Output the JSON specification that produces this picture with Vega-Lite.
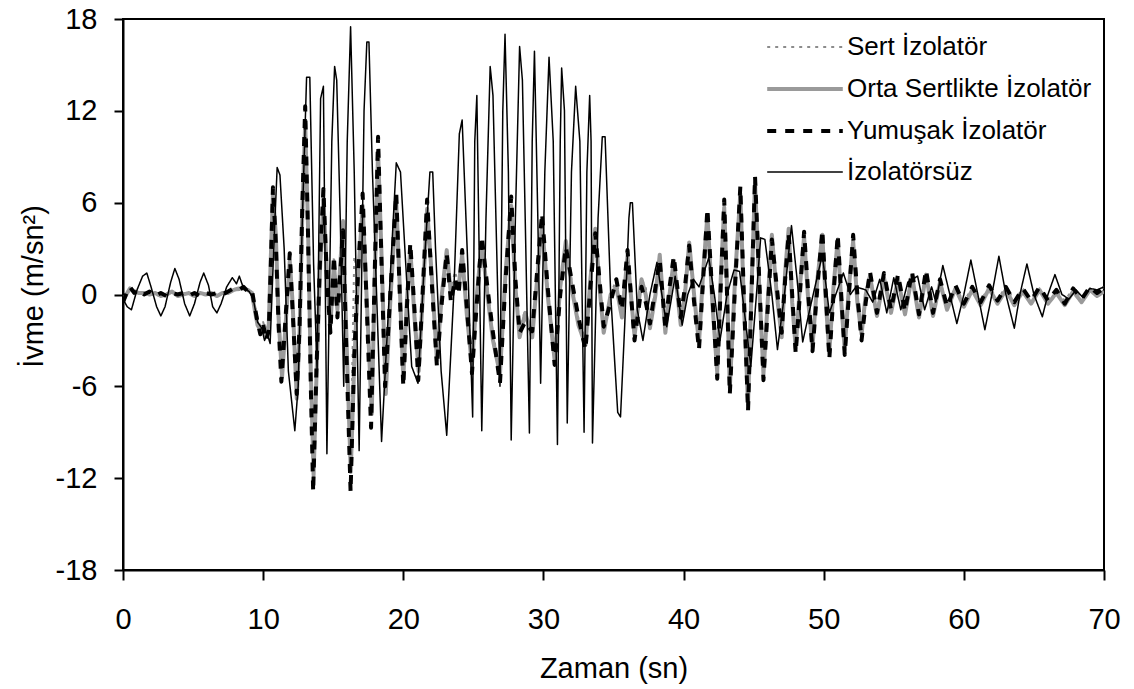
{
"$schema": "https://vega.github.io/schema/vega-lite/v6.json",
"width": 981,
"height": 551,
"autosize": {"type": "none"},
"padding": {"left": 123, "top": 19, "right": 30, "bottom": 119},
"background": "white",
"config": {
 "font": "Liberation Sans",
 "view": {"stroke": "#000", "strokeWidth": 2},
 "axis": {"grid": false, "domainColor": "#000", "domainWidth": 2, "tickColor": "#000", "tickWidth": 2, "labelColor": "#000", "titleColor": "#000", "labelFont": "Liberation Sans", "titleFont": "Liberation Sans", "labelFontSize": 29, "titleFontSize": 29, "titleFontWeight": "normal"},
 "legend": {"title": null, "orient": "none", "legendX": 653, "legendY": 0, "padding": 0, "symbolType": "M-1.4,0H1.4", "symbolSize": 2916, "labelFont": "Liberation Sans", "labelFontSize": 26, "labelColor": "#000", "labelOffset": 13, "rowPadding": 0, "labelLimit": 400}
},
"datasets": {
"sert": [
{"seri":"Sert İzolatör","zaman":0,"ivme":-0.3},{"seri":"Sert İzolatör","zaman":0.5,"ivme":0.3},{"seri":"Sert İzolatör","zaman":1.1,"ivme":0.2},{"seri":"Sert İzolatör","zaman":1.9,"ivme":0.1},{"seri":"Sert İzolatör","zaman":2.7,"ivme":0.0},{"seri":"Sert İzolatör","zaman":3.5,"ivme":0.1},{"seri":"Sert İzolatör","zaman":4.3,"ivme":0.1},{"seri":"Sert İzolatör","zaman":5.1,"ivme":0.0},{"seri":"Sert İzolatör","zaman":5.9,"ivme":0.1},{"seri":"Sert İzolatör","zaman":6.7,"ivme":0.0},{"seri":"Sert İzolatör","zaman":7.5,"ivme":0.2},{"seri":"Sert İzolatör","zaman":8.3,"ivme":0.3},{"seri":"Sert İzolatör","zaman":8.9,"ivme":0.3},{"seri":"Sert İzolatör","zaman":9.2,"ivme":0.2},{"seri":"Sert İzolatör","zaman":9.4,"ivme":-0.6},{"seri":"Sert İzolatör","zaman":9.6,"ivme":-1.5},{"seri":"Sert İzolatör","zaman":9.8,"ivme":-2.1},{"seri":"Sert İzolatör","zaman":10.0,"ivme":-1.8},{"seri":"Sert İzolatör","zaman":10.2,"ivme":-2.5},{"seri":"Sert İzolatör","zaman":10.4,"ivme":-1.8},{"seri":"Sert İzolatör","zaman":10.55,"ivme":2.0},{"seri":"Sert İzolatör","zaman":10.7,"ivme":6.0},{"seri":"Sert İzolatör","zaman":10.9,"ivme":3.5},{"seri":"Sert İzolatör","zaman":11.1,"ivme":-1.0},{"seri":"Sert İzolatör","zaman":11.35,"ivme":-4.8},{"seri":"Sert İzolatör","zaman":11.6,"ivme":-1.5},{"seri":"Sert İzolatör","zaman":11.9,"ivme":2.0},{"seri":"Sert İzolatör","zaman":12.1,"ivme":0.0},{"seri":"Sert İzolatör","zaman":12.4,"ivme":-6.0},{"seri":"Sert İzolatör","zaman":12.6,"ivme":-2.0},{"seri":"Sert İzolatör","zaman":12.8,"ivme":5.0},{"seri":"Sert İzolatör","zaman":13.0,"ivme":10.5},{"seri":"Sert İzolatör","zaman":13.2,"ivme":4.0},{"seri":"Sert İzolatör","zaman":13.4,"ivme":-4.5},{"seri":"Sert İzolatör","zaman":13.6,"ivme":-10.8},{"seri":"Sert İzolatör","zaman":13.8,"ivme":-5.0},{"seri":"Sert İzolatör","zaman":14.05,"ivme":1.5},{"seri":"Sert İzolatör","zaman":14.3,"ivme":5.8},{"seri":"Sert İzolatör","zaman":14.55,"ivme":2.0},{"seri":"Sert İzolatör","zaman":14.8,"ivme":-1.5},{"seri":"Sert İzolatör","zaman":15.05,"ivme":2.5},{"seri":"Sert İzolatör","zaman":15.3,"ivme":-0.5},{"seri":"Sert İzolatör","zaman":15.7,"ivme":4.5},{"seri":"Sert İzolatör","zaman":15.95,"ivme":-2.5},{"seri":"Sert İzolatör","zaman":16.25,"ivme":-10.5},{"seri":"Sert İzolatör","zaman":16.5,"ivme":2.5},{"seri":"Sert İzolatör","zaman":16.8,"ivme":1.0},{"seri":"Sert İzolatör","zaman":17.1,"ivme":5.2},{"seri":"Sert İzolatör","zaman":17.4,"ivme":0.0},{"seri":"Sert İzolatör","zaman":17.75,"ivme":-7.0},{"seri":"Sert İzolatör","zaman":17.95,"ivme":0.5},{"seri":"Sert İzolatör","zaman":18.2,"ivme":8.6},{"seri":"Sert İzolatör","zaman":18.45,"ivme":2.5},{"seri":"Sert İzolatör","zaman":18.75,"ivme":-5.8},{"seri":"Sert İzolatör","zaman":19.1,"ivme":0.0},{"seri":"Sert İzolatör","zaman":19.5,"ivme":5.5},{"seri":"Sert İzolatör","zaman":19.75,"ivme":0.5},{"seri":"Sert İzolatör","zaman":20.0,"ivme":-5.0},{"seri":"Sert İzolatör","zaman":20.25,"ivme":0.0},{"seri":"Sert İzolatör","zaman":20.5,"ivme":3.0},{"seri":"Sert İzolatör","zaman":20.8,"ivme":-1.0},{"seri":"Sert İzolatör","zaman":21.1,"ivme":-4.6},{"seri":"Sert İzolatör","zaman":21.4,"ivme":0.0},{"seri":"Sert İzolatör","zaman":21.7,"ivme":5.2},{"seri":"Sert İzolatör","zaman":22.05,"ivme":1.0},{"seri":"Sert İzolatör","zaman":22.4,"ivme":-4.0},{"seri":"Sert İzolatör","zaman":22.75,"ivme":0.5},{"seri":"Sert İzolatör","zaman":23.1,"ivme":3.0},{"seri":"Sert İzolatör","zaman":23.4,"ivme":0.5},{"seri":"Sert İzolatör","zaman":23.7,"ivme":1.5},{"seri":"Sert İzolatör","zaman":23.95,"ivme":0.5},{"seri":"Sert İzolatör","zaman":24.2,"ivme":2.8},{"seri":"Sert İzolatör","zaman":24.55,"ivme":-1.0},{"seri":"Sert İzolatör","zaman":24.9,"ivme":-4.2},{"seri":"Sert İzolatör","zaman":25.25,"ivme":0.0},{"seri":"Sert İzolatör","zaman":25.6,"ivme":3.2},{"seri":"Sert İzolatör","zaman":26.0,"ivme":0.5},{"seri":"Sert İzolatör","zaman":26.4,"ivme":-2.6},{"seri":"Sert İzolatör","zaman":26.9,"ivme":-4.8},{"seri":"Sert İzolatör","zaman":27.3,"ivme":1.5},{"seri":"Sert İzolatör","zaman":27.7,"ivme":5.4},{"seri":"Sert İzolatör","zaman":28.0,"ivme":1.0},{"seri":"Sert İzolatör","zaman":28.3,"ivme":-2.2},{"seri":"Sert İzolatör","zaman":28.7,"ivme":-1.0},{"seri":"Sert İzolatör","zaman":29.2,"ivme":-2.5},{"seri":"Sert İzolatör","zaman":29.55,"ivme":1.0},{"seri":"Sert İzolatör","zaman":29.9,"ivme":4.4},{"seri":"Sert İzolatör","zaman":30.3,"ivme":0.5},{"seri":"Sert İzolatör","zaman":30.8,"ivme":-3.9},{"seri":"Sert İzolatör","zaman":31.2,"ivme":0.5},{"seri":"Sert İzolatör","zaman":31.6,"ivme":3.3},{"seri":"Sert İzolatör","zaman":32.0,"ivme":1.0},{"seri":"Sert İzolatör","zaman":32.5,"ivme":-1.6},{"seri":"Sert İzolatör","zaman":33.0,"ivme":-3.0},{"seri":"Sert İzolatör","zaman":33.35,"ivme":1.0},{"seri":"Sert İzolatör","zaman":33.7,"ivme":4.0},{"seri":"Sert İzolatör","zaman":34.0,"ivme":1.0},{"seri":"Sert İzolatör","zaman":34.3,"ivme":-2.0},{"seri":"Sert İzolatör","zaman":34.8,"ivme":0.0},{"seri":"Sert İzolatör","zaman":35.2,"ivme":1.0},{"seri":"Sert İzolatör","zaman":35.6,"ivme":-1.0},{"seri":"Sert İzolatör","zaman":36.0,"ivme":2.8},{"seri":"Sert İzolatör","zaman":36.5,"ivme":-2.4},{"seri":"Sert İzolatör","zaman":37.0,"ivme":1.0},{"seri":"Sert İzolatör","zaman":37.3,"ivme":0.5},{"seri":"Sert İzolatör","zaman":37.6,"ivme":-1.8},{"seri":"Sert İzolatör","zaman":38.0,"ivme":0.5},{"seri":"Sert İzolatör","zaman":38.3,"ivme":2.4},{"seri":"Sert İzolatör","zaman":38.7,"ivme":-2.0},{"seri":"Sert İzolatör","zaman":39.0,"ivme":0.5},{"seri":"Sert İzolatör","zaman":39.3,"ivme":2.0},{"seri":"Sert İzolatör","zaman":39.8,"ivme":-1.6},{"seri":"Sert İzolatör","zaman":40.1,"ivme":0.5},{"seri":"Sert İzolatör","zaman":40.4,"ivme":3.0},{"seri":"Sert İzolatör","zaman":40.75,"ivme":0.0},{"seri":"Sert İzolatör","zaman":41.1,"ivme":-2.9},{"seri":"Sert İzolatör","zaman":41.4,"ivme":1.5},{"seri":"Sert İzolatör","zaman":41.7,"ivme":4.8},{"seri":"Sert İzolatör","zaman":42.05,"ivme":0.0},{"seri":"Sert İzolatör","zaman":42.4,"ivme":-4.6},{"seri":"Sert İzolatör","zaman":42.65,"ivme":1.0},{"seri":"Sert İzolatör","zaman":42.9,"ivme":5.2},{"seri":"Sert İzolatör","zaman":43.1,"ivme":0.5},{"seri":"Sert İzolatör","zaman":43.3,"ivme":-5.5},{"seri":"Sert İzolatör","zaman":43.7,"ivme":1.5},{"seri":"Sert İzolatör","zaman":44.05,"ivme":6.0},{"seri":"Sert İzolatör","zaman":44.3,"ivme":0.0},{"seri":"Sert İzolatör","zaman":44.6,"ivme":-6.5},{"seri":"Sert İzolatör","zaman":44.85,"ivme":0.5},{"seri":"Sert İzolatör","zaman":45.1,"ivme":6.6},{"seri":"Sert İzolatör","zaman":45.4,"ivme":0.5},{"seri":"Sert İzolatör","zaman":45.7,"ivme":-4.8},{"seri":"Sert İzolatör","zaman":46.0,"ivme":0.0},{"seri":"Sert İzolatör","zaman":46.3,"ivme":3.5},{"seri":"Sert İzolatör","zaman":46.65,"ivme":0.5},{"seri":"Sert İzolatör","zaman":47.0,"ivme":-2.4},{"seri":"Sert İzolatör","zaman":47.25,"ivme":1.5},{"seri":"Sert İzolatör","zaman":47.5,"ivme":3.9},{"seri":"Sert İzolatör","zaman":47.75,"ivme":0.0},{"seri":"Sert İzolatör","zaman":48.0,"ivme":-3.2},{"seri":"Sert İzolatör","zaman":48.3,"ivme":0.5},{"seri":"Sert İzolatör","zaman":48.6,"ivme":3.5},{"seri":"Sert İzolatör","zaman":48.9,"ivme":0.0},{"seri":"Sert İzolatör","zaman":49.2,"ivme":-3.1},{"seri":"Sert İzolatör","zaman":49.55,"ivme":1.0},{"seri":"Sert İzolatör","zaman":49.9,"ivme":3.6},{"seri":"Sert İzolatör","zaman":50.15,"ivme":0.0},{"seri":"Sert İzolatör","zaman":50.4,"ivme":-3.5},{"seri":"Sert İzolatör","zaman":50.7,"ivme":0.5},{"seri":"Sert İzolatör","zaman":51.0,"ivme":3.3},{"seri":"Sert İzolatör","zaman":51.25,"ivme":0.0},{"seri":"Sert İzolatör","zaman":51.5,"ivme":-3.3},{"seri":"Sert İzolatör","zaman":51.8,"ivme":0.5},{"seri":"Sert İzolatör","zaman":52.1,"ivme":3.2},{"seri":"Sert İzolatör","zaman":52.4,"ivme":0.0},{"seri":"Sert İzolatör","zaman":52.7,"ivme":-2.4},{"seri":"Sert İzolatör","zaman":53.0,"ivme":0.0},{"seri":"Sert İzolatör","zaman":53.3,"ivme":1.3},{"seri":"Sert İzolatör","zaman":53.8,"ivme":-1.0},{"seri":"Sert İzolatör","zaman":54.3,"ivme":1.2},{"seri":"Sert İzolatör","zaman":54.8,"ivme":-0.9},{"seri":"Sert İzolatör","zaman":55.3,"ivme":1.1},{"seri":"Sert İzolatör","zaman":55.8,"ivme":-1.0},{"seri":"Sert İzolatör","zaman":56.3,"ivme":1.3},{"seri":"Sert İzolatör","zaman":56.8,"ivme":-1.1},{"seri":"Sert İzolatör","zaman":57.3,"ivme":1.4},{"seri":"Sert İzolatör","zaman":57.8,"ivme":-1.0},{"seri":"Sert İzolatör","zaman":58.3,"ivme":0.9},{"seri":"Sert İzolatör","zaman":58.8,"ivme":-0.7},{"seri":"Sert İzolatör","zaman":59.4,"ivme":0.5},{"seri":"Sert İzolatör","zaman":60.0,"ivme":-0.5},{"seri":"Sert İzolatör","zaman":60.6,"ivme":0.5},{"seri":"Sert İzolatör","zaman":61.2,"ivme":-0.4},{"seri":"Sert İzolatör","zaman":61.8,"ivme":0.5},{"seri":"Sert İzolatör","zaman":62.4,"ivme":-0.3},{"seri":"Sert İzolatör","zaman":63.0,"ivme":0.5},{"seri":"Sert İzolatör","zaman":63.6,"ivme":-0.4},{"seri":"Sert İzolatör","zaman":64.2,"ivme":0.4},{"seri":"Sert İzolatör","zaman":64.8,"ivme":-0.3},{"seri":"Sert İzolatör","zaman":65.4,"ivme":0.4},{"seri":"Sert İzolatör","zaman":66.0,"ivme":-0.3},{"seri":"Sert İzolatör","zaman":66.6,"ivme":0.3},{"seri":"Sert İzolatör","zaman":67.2,"ivme":-0.4},{"seri":"Sert İzolatör","zaman":67.8,"ivme":0.4},{"seri":"Sert İzolatör","zaman":68.4,"ivme":-0.2},{"seri":"Sert İzolatör","zaman":69.0,"ivme":0.4},{"seri":"Sert İzolatör","zaman":69.5,"ivme":0.2},{"seri":"Sert İzolatör","zaman":70.0,"ivme":0.5}
],
"orta": [
{"seri":"Orta Sertlikte İzolatör","zaman":0,"ivme":-0.4},{"seri":"Orta Sertlikte İzolatör","zaman":0.3,"ivme":0.1},{"seri":"Orta Sertlikte İzolatör","zaman":0.5,"ivme":0.4},{"seri":"Orta Sertlikte İzolatör","zaman":0.8,"ivme":0.2},{"seri":"Orta Sertlikte İzolatör","zaman":1.1,"ivme":0.1},{"seri":"Orta Sertlikte İzolatör","zaman":1.5,"ivme":0.1},{"seri":"Orta Sertlikte İzolatör","zaman":1.9,"ivme":0.0},{"seri":"Orta Sertlikte İzolatör","zaman":2.3,"ivme":0.1},{"seri":"Orta Sertlikte İzolatör","zaman":2.7,"ivme":-0.1},{"seri":"Orta Sertlikte İzolatör","zaman":3.1,"ivme":0.0},{"seri":"Orta Sertlikte İzolatör","zaman":3.5,"ivme":0.2},{"seri":"Orta Sertlikte İzolatör","zaman":3.9,"ivme":-0.1},{"seri":"Orta Sertlikte İzolatör","zaman":4.3,"ivme":0.0},{"seri":"Orta Sertlikte İzolatör","zaman":4.7,"ivme":0.1},{"seri":"Orta Sertlikte İzolatör","zaman":5.1,"ivme":-0.1},{"seri":"Orta Sertlikte İzolatör","zaman":5.5,"ivme":0.1},{"seri":"Orta Sertlikte İzolatör","zaman":5.9,"ivme":0.0},{"seri":"Orta Sertlikte İzolatör","zaman":6.3,"ivme":0.1},{"seri":"Orta Sertlikte İzolatör","zaman":6.7,"ivme":-0.1},{"seri":"Orta Sertlikte İzolatör","zaman":7.1,"ivme":0.1},{"seri":"Orta Sertlikte İzolatör","zaman":7.5,"ivme":0.1},{"seri":"Orta Sertlikte İzolatör","zaman":7.9,"ivme":0.3},{"seri":"Orta Sertlikte İzolatör","zaman":8.3,"ivme":0.4},{"seri":"Orta Sertlikte İzolatör","zaman":8.6,"ivme":0.4},{"seri":"Orta Sertlikte İzolatör","zaman":8.9,"ivme":0.3},{"seri":"Orta Sertlikte İzolatör","zaman":9.2,"ivme":0.1},{"seri":"Orta Sertlikte İzolatör","zaman":9.4,"ivme":-1.0},{"seri":"Orta Sertlikte İzolatör","zaman":9.6,"ivme":-2.0},{"seri":"Orta Sertlikte İzolatör","zaman":9.8,"ivme":-2.3},{"seri":"Orta Sertlikte İzolatör","zaman":10.0,"ivme":-2.2},{"seri":"Orta Sertlikte İzolatör","zaman":10.2,"ivme":-2.7},{"seri":"Orta Sertlikte İzolatör","zaman":10.4,"ivme":-2.0},{"seri":"Orta Sertlikte İzolatör","zaman":10.55,"ivme":2.5},{"seri":"Orta Sertlikte İzolatör","zaman":10.7,"ivme":6.6},{"seri":"Orta Sertlikte İzolatör","zaman":10.9,"ivme":4.0},{"seri":"Orta Sertlikte İzolatör","zaman":11.1,"ivme":-1.5},{"seri":"Orta Sertlikte İzolatör","zaman":11.35,"ivme":-5.4},{"seri":"Orta Sertlikte İzolatör","zaman":11.6,"ivme":-2.0},{"seri":"Orta Sertlikte İzolatör","zaman":11.9,"ivme":2.2},{"seri":"Orta Sertlikte İzolatör","zaman":12.1,"ivme":-0.5},{"seri":"Orta Sertlikte İzolatör","zaman":12.4,"ivme":-6.8},{"seri":"Orta Sertlikte İzolatör","zaman":12.6,"ivme":-2.5},{"seri":"Orta Sertlikte İzolatör","zaman":12.8,"ivme":5.5},{"seri":"Orta Sertlikte İzolatör","zaman":13.0,"ivme":11.2},{"seri":"Orta Sertlikte İzolatör","zaman":13.2,"ivme":4.5},{"seri":"Orta Sertlikte İzolatör","zaman":13.4,"ivme":-5.0},{"seri":"Orta Sertlikte İzolatör","zaman":13.6,"ivme":-11.8},{"seri":"Orta Sertlikte İzolatör","zaman":13.8,"ivme":-5.5},{"seri":"Orta Sertlikte İzolatör","zaman":14.05,"ivme":1.5},{"seri":"Orta Sertlikte İzolatör","zaman":14.3,"ivme":6.2},{"seri":"Orta Sertlikte İzolatör","zaman":14.55,"ivme":1.5},{"seri":"Orta Sertlikte İzolatör","zaman":14.8,"ivme":-2.0},{"seri":"Orta Sertlikte İzolatör","zaman":15.05,"ivme":2.0},{"seri":"Orta Sertlikte İzolatör","zaman":15.3,"ivme":-1.0},{"seri":"Orta Sertlikte İzolatör","zaman":15.7,"ivme":4.8},{"seri":"Orta Sertlikte İzolatör","zaman":15.95,"ivme":-3.0},{"seri":"Orta Sertlikte İzolatör","zaman":16.25,"ivme":-11.6},{"seri":"Orta Sertlikte İzolatör","zaman":16.5,"ivme":-4.5},{"seri":"Orta Sertlikte İzolatör","zaman":16.8,"ivme":1.5},{"seri":"Orta Sertlikte İzolatör","zaman":17.1,"ivme":5.8},{"seri":"Orta Sertlikte İzolatör","zaman":17.4,"ivme":-0.5},{"seri":"Orta Sertlikte İzolatör","zaman":17.75,"ivme":-7.8},{"seri":"Orta Sertlikte İzolatör","zaman":17.95,"ivme":0.5},{"seri":"Orta Sertlikte İzolatör","zaman":18.2,"ivme":9.4},{"seri":"Orta Sertlikte İzolatör","zaman":18.45,"ivme":2.5},{"seri":"Orta Sertlikte İzolatör","zaman":18.75,"ivme":-6.5},{"seri":"Orta Sertlikte İzolatör","zaman":19.1,"ivme":0.0},{"seri":"Orta Sertlikte İzolatör","zaman":19.5,"ivme":6.0},{"seri":"Orta Sertlikte İzolatör","zaman":19.75,"ivme":0.5},{"seri":"Orta Sertlikte İzolatör","zaman":20.0,"ivme":-5.5},{"seri":"Orta Sertlikte İzolatör","zaman":20.25,"ivme":-0.5},{"seri":"Orta Sertlikte İzolatör","zaman":20.5,"ivme":3.0},{"seri":"Orta Sertlikte İzolatör","zaman":20.8,"ivme":-1.5},{"seri":"Orta Sertlikte İzolatör","zaman":21.1,"ivme":-5.0},{"seri":"Orta Sertlikte İzolatör","zaman":21.4,"ivme":0.0},{"seri":"Orta Sertlikte İzolatör","zaman":21.7,"ivme":5.6},{"seri":"Orta Sertlikte İzolatör","zaman":22.05,"ivme":1.0},{"seri":"Orta Sertlikte İzolatör","zaman":22.4,"ivme":-4.3},{"seri":"Orta Sertlikte İzolatör","zaman":22.75,"ivme":0.0},{"seri":"Orta Sertlikte İzolatör","zaman":23.1,"ivme":2.9},{"seri":"Orta Sertlikte İzolatör","zaman":23.4,"ivme":0.0},{"seri":"Orta Sertlikte İzolatör","zaman":23.7,"ivme":0.8},{"seri":"Orta Sertlikte İzolatör","zaman":23.95,"ivme":0.5},{"seri":"Orta Sertlikte İzolatör","zaman":24.2,"ivme":2.6},{"seri":"Orta Sertlikte İzolatör","zaman":24.55,"ivme":-1.5},{"seri":"Orta Sertlikte İzolatör","zaman":24.9,"ivme":-4.6},{"seri":"Orta Sertlikte İzolatör","zaman":25.25,"ivme":0.0},{"seri":"Orta Sertlikte İzolatör","zaman":25.6,"ivme":3.4},{"seri":"Orta Sertlikte İzolatör","zaman":26.0,"ivme":0.0},{"seri":"Orta Sertlikte İzolatör","zaman":26.4,"ivme":-3.0},{"seri":"Orta Sertlikte İzolatör","zaman":26.9,"ivme":-5.2},{"seri":"Orta Sertlikte İzolatör","zaman":27.3,"ivme":1.5},{"seri":"Orta Sertlikte İzolatör","zaman":27.7,"ivme":5.8},{"seri":"Orta Sertlikte İzolatör","zaman":28.0,"ivme":0.5},{"seri":"Orta Sertlikte İzolatör","zaman":28.3,"ivme":-2.8},{"seri":"Orta Sertlikte İzolatör","zaman":28.7,"ivme":-1.2},{"seri":"Orta Sertlikte İzolatör","zaman":29.2,"ivme":-2.8},{"seri":"Orta Sertlikte İzolatör","zaman":29.55,"ivme":1.0},{"seri":"Orta Sertlikte İzolatör","zaman":29.9,"ivme":4.7},{"seri":"Orta Sertlikte İzolatör","zaman":30.3,"ivme":0.0},{"seri":"Orta Sertlikte İzolatör","zaman":30.8,"ivme":-4.3},{"seri":"Orta Sertlikte İzolatör","zaman":31.2,"ivme":0.5},{"seri":"Orta Sertlikte İzolatör","zaman":31.6,"ivme":3.5},{"seri":"Orta Sertlikte İzolatör","zaman":32.0,"ivme":0.5},{"seri":"Orta Sertlikte İzolatör","zaman":32.5,"ivme":-2.0},{"seri":"Orta Sertlikte İzolatör","zaman":33.0,"ivme":-3.3},{"seri":"Orta Sertlikte İzolatör","zaman":33.35,"ivme":1.0},{"seri":"Orta Sertlikte İzolatör","zaman":33.7,"ivme":4.3},{"seri":"Orta Sertlikte İzolatör","zaman":34.0,"ivme":0.5},{"seri":"Orta Sertlikte İzolatör","zaman":34.3,"ivme":-2.5},{"seri":"Orta Sertlikte İzolatör","zaman":34.8,"ivme":0.0},{"seri":"Orta Sertlikte İzolatör","zaman":35.2,"ivme":0.5},{"seri":"Orta Sertlikte İzolatör","zaman":35.6,"ivme":-1.5},{"seri":"Orta Sertlikte İzolatör","zaman":36.0,"ivme":2.5},{"seri":"Orta Sertlikte İzolatör","zaman":36.5,"ivme":-2.7},{"seri":"Orta Sertlikte İzolatör","zaman":37.0,"ivme":1.0},{"seri":"Orta Sertlikte İzolatör","zaman":37.3,"ivme":0.0},{"seri":"Orta Sertlikte İzolatör","zaman":37.6,"ivme":-2.2},{"seri":"Orta Sertlikte İzolatör","zaman":38.0,"ivme":0.0},{"seri":"Orta Sertlikte İzolatör","zaman":38.3,"ivme":2.6},{"seri":"Orta Sertlikte İzolatör","zaman":38.7,"ivme":-2.5},{"seri":"Orta Sertlikte İzolatör","zaman":39.0,"ivme":0.0},{"seri":"Orta Sertlikte İzolatör","zaman":39.3,"ivme":2.2},{"seri":"Orta Sertlikte İzolatör","zaman":39.8,"ivme":-2.0},{"seri":"Orta Sertlikte İzolatör","zaman":40.1,"ivme":0.0},{"seri":"Orta Sertlikte İzolatör","zaman":40.4,"ivme":3.4},{"seri":"Orta Sertlikte İzolatör","zaman":40.75,"ivme":0.0},{"seri":"Orta Sertlikte İzolatör","zaman":41.1,"ivme":-3.2},{"seri":"Orta Sertlikte İzolatör","zaman":41.4,"ivme":1.5},{"seri":"Orta Sertlikte İzolatör","zaman":41.7,"ivme":5.2},{"seri":"Orta Sertlikte İzolatör","zaman":42.05,"ivme":-0.5},{"seri":"Orta Sertlikte İzolatör","zaman":42.4,"ivme":-5.1},{"seri":"Orta Sertlikte İzolatör","zaman":42.65,"ivme":1.0},{"seri":"Orta Sertlikte İzolatör","zaman":42.9,"ivme":5.7},{"seri":"Orta Sertlikte İzolatör","zaman":43.1,"ivme":0.5},{"seri":"Orta Sertlikte İzolatör","zaman":43.3,"ivme":-6.1},{"seri":"Orta Sertlikte İzolatör","zaman":43.7,"ivme":1.5},{"seri":"Orta Sertlikte İzolatör","zaman":44.05,"ivme":6.6},{"seri":"Orta Sertlikte İzolatör","zaman":44.3,"ivme":-0.5},{"seri":"Orta Sertlikte İzolatör","zaman":44.6,"ivme":-7.2},{"seri":"Orta Sertlikte İzolatör","zaman":44.85,"ivme":0.5},{"seri":"Orta Sertlikte İzolatör","zaman":45.1,"ivme":7.3},{"seri":"Orta Sertlikte İzolatör","zaman":45.4,"ivme":0.5},{"seri":"Orta Sertlikte İzolatör","zaman":45.7,"ivme":-5.2},{"seri":"Orta Sertlikte İzolatör","zaman":46.0,"ivme":-0.5},{"seri":"Orta Sertlikte İzolatör","zaman":46.3,"ivme":3.9},{"seri":"Orta Sertlikte İzolatör","zaman":46.65,"ivme":0.0},{"seri":"Orta Sertlikte İzolatör","zaman":47.0,"ivme":-2.8},{"seri":"Orta Sertlikte İzolatör","zaman":47.25,"ivme":1.5},{"seri":"Orta Sertlikte İzolatör","zaman":47.5,"ivme":4.3},{"seri":"Orta Sertlikte İzolatör","zaman":47.75,"ivme":-0.5},{"seri":"Orta Sertlikte İzolatör","zaman":48.0,"ivme":-3.5},{"seri":"Orta Sertlikte İzolatör","zaman":48.3,"ivme":0.5},{"seri":"Orta Sertlikte İzolatör","zaman":48.6,"ivme":3.8},{"seri":"Orta Sertlikte İzolatör","zaman":48.9,"ivme":-0.5},{"seri":"Orta Sertlikte İzolatör","zaman":49.2,"ivme":-3.4},{"seri":"Orta Sertlikte İzolatör","zaman":49.55,"ivme":1.0},{"seri":"Orta Sertlikte İzolatör","zaman":49.9,"ivme":3.9},{"seri":"Orta Sertlikte İzolatör","zaman":50.15,"ivme":-0.5},{"seri":"Orta Sertlikte İzolatör","zaman":50.4,"ivme":-3.8},{"seri":"Orta Sertlikte İzolatör","zaman":50.7,"ivme":0.5},{"seri":"Orta Sertlikte İzolatör","zaman":51.0,"ivme":3.6},{"seri":"Orta Sertlikte İzolatör","zaman":51.25,"ivme":-0.5},{"seri":"Orta Sertlikte İzolatör","zaman":51.5,"ivme":-3.6},{"seri":"Orta Sertlikte İzolatör","zaman":51.8,"ivme":0.5},{"seri":"Orta Sertlikte İzolatör","zaman":52.1,"ivme":3.5},{"seri":"Orta Sertlikte İzolatör","zaman":52.4,"ivme":-0.5},{"seri":"Orta Sertlikte İzolatör","zaman":52.7,"ivme":-2.6},{"seri":"Orta Sertlikte İzolatör","zaman":53.0,"ivme":0.0},{"seri":"Orta Sertlikte İzolatör","zaman":53.3,"ivme":1.2},{"seri":"Orta Sertlikte İzolatör","zaman":53.8,"ivme":-1.4},{"seri":"Orta Sertlikte İzolatör","zaman":54.3,"ivme":1.1},{"seri":"Orta Sertlikte İzolatör","zaman":54.8,"ivme":-1.2},{"seri":"Orta Sertlikte İzolatör","zaman":55.3,"ivme":1.0},{"seri":"Orta Sertlikte İzolatör","zaman":55.8,"ivme":-1.3},{"seri":"Orta Sertlikte İzolatör","zaman":56.3,"ivme":1.2},{"seri":"Orta Sertlikte İzolatör","zaman":56.8,"ivme":-1.5},{"seri":"Orta Sertlikte İzolatör","zaman":57.3,"ivme":1.3},{"seri":"Orta Sertlikte İzolatör","zaman":57.8,"ivme":-1.4},{"seri":"Orta Sertlikte İzolatör","zaman":58.3,"ivme":0.8},{"seri":"Orta Sertlikte İzolatör","zaman":58.8,"ivme":-1.0},{"seri":"Orta Sertlikte İzolatör","zaman":59.4,"ivme":0.4},{"seri":"Orta Sertlikte İzolatör","zaman":60.0,"ivme":-0.8},{"seri":"Orta Sertlikte İzolatör","zaman":60.6,"ivme":0.3},{"seri":"Orta Sertlikte İzolatör","zaman":61.2,"ivme":-0.7},{"seri":"Orta Sertlikte İzolatör","zaman":61.8,"ivme":0.4},{"seri":"Orta Sertlikte İzolatör","zaman":62.4,"ivme":-0.6},{"seri":"Orta Sertlikte İzolatör","zaman":63.0,"ivme":0.3},{"seri":"Orta Sertlikte İzolatör","zaman":63.6,"ivme":-0.7},{"seri":"Orta Sertlikte İzolatör","zaman":64.2,"ivme":0.2},{"seri":"Orta Sertlikte İzolatör","zaman":64.8,"ivme":-0.6},{"seri":"Orta Sertlikte İzolatör","zaman":65.4,"ivme":0.3},{"seri":"Orta Sertlikte İzolatör","zaman":66.0,"ivme":-0.6},{"seri":"Orta Sertlikte İzolatör","zaman":66.6,"ivme":0.1},{"seri":"Orta Sertlikte İzolatör","zaman":67.2,"ivme":-0.7},{"seri":"Orta Sertlikte İzolatör","zaman":67.8,"ivme":0.2},{"seri":"Orta Sertlikte İzolatör","zaman":68.4,"ivme":-0.5},{"seri":"Orta Sertlikte İzolatör","zaman":69.0,"ivme":0.3},{"seri":"Orta Sertlikte İzolatör","zaman":69.5,"ivme":-0.1},{"seri":"Orta Sertlikte İzolatör","zaman":70.0,"ivme":0.2}
],
"yumusak": [
{"seri":"Yumuşak İzolatör","zaman":0,"ivme":-0.5},{"seri":"Yumuşak İzolatör","zaman":0.3,"ivme":0.2},{"seri":"Yumuşak İzolatör","zaman":0.5,"ivme":0.5},{"seri":"Yumuşak İzolatör","zaman":0.8,"ivme":0.1},{"seri":"Yumuşak İzolatör","zaman":1.1,"ivme":0.3},{"seri":"Yumuşak İzolatör","zaman":1.5,"ivme":0.0},{"seri":"Yumuşak İzolatör","zaman":1.9,"ivme":0.2},{"seri":"Yumuşak İzolatör","zaman":2.3,"ivme":-0.1},{"seri":"Yumuşak İzolatör","zaman":2.7,"ivme":0.1},{"seri":"Yumuşak İzolatör","zaman":3.1,"ivme":-0.1},{"seri":"Yumuşak İzolatör","zaman":3.5,"ivme":0.1},{"seri":"Yumuşak İzolatör","zaman":3.9,"ivme":0.0},{"seri":"Yumuşak İzolatör","zaman":4.3,"ivme":0.1},{"seri":"Yumuşak İzolatör","zaman":4.7,"ivme":-0.1},{"seri":"Yumuşak İzolatör","zaman":5.1,"ivme":0.1},{"seri":"Yumuşak İzolatör","zaman":5.5,"ivme":-0.1},{"seri":"Yumuşak İzolatör","zaman":5.9,"ivme":0.1},{"seri":"Yumuşak İzolatör","zaman":6.3,"ivme":0.0},{"seri":"Yumuşak İzolatör","zaman":6.7,"ivme":0.1},{"seri":"Yumuşak İzolatör","zaman":7.1,"ivme":0.0},{"seri":"Yumuşak İzolatör","zaman":7.5,"ivme":0.2},{"seri":"Yumuşak İzolatör","zaman":7.9,"ivme":0.4},{"seri":"Yumuşak İzolatör","zaman":8.3,"ivme":0.3},{"seri":"Yumuşak İzolatör","zaman":8.6,"ivme":0.5},{"seri":"Yumuşak İzolatör","zaman":8.9,"ivme":0.2},{"seri":"Yumuşak İzolatör","zaman":9.2,"ivme":0.3},{"seri":"Yumuşak İzolatör","zaman":9.4,"ivme":-0.8},{"seri":"Yumuşak İzolatör","zaman":9.6,"ivme":-1.8},{"seri":"Yumuşak İzolatör","zaman":9.8,"ivme":-2.6},{"seri":"Yumuşak İzolatör","zaman":10.0,"ivme":-1.9},{"seri":"Yumuşak İzolatör","zaman":10.2,"ivme":-3.0},{"seri":"Yumuşak İzolatör","zaman":10.4,"ivme":-2.4},{"seri":"Yumuşak İzolatör","zaman":10.55,"ivme":2.0},{"seri":"Yumuşak İzolatör","zaman":10.7,"ivme":7.0},{"seri":"Yumuşak İzolatör","zaman":10.9,"ivme":3.5},{"seri":"Yumuşak İzolatör","zaman":11.1,"ivme":-2.0},{"seri":"Yumuşak İzolatör","zaman":11.3,"ivme":-5.7},{"seri":"Yumuşak İzolatör","zaman":11.6,"ivme":-1.5},{"seri":"Yumuşak İzolatör","zaman":11.9,"ivme":2.7},{"seri":"Yumuşak İzolatör","zaman":12.1,"ivme":-1.0},{"seri":"Yumuşak İzolatör","zaman":12.4,"ivme":-6.5},{"seri":"Yumuşak İzolatör","zaman":12.6,"ivme":-2.0},{"seri":"Yumuşak İzolatör","zaman":12.8,"ivme":6.0},{"seri":"Yumuşak İzolatör","zaman":13.0,"ivme":12.3},{"seri":"Yumuşak İzolatör","zaman":13.2,"ivme":4.0},{"seri":"Yumuşak İzolatör","zaman":13.4,"ivme":-6.0},{"seri":"Yumuşak İzolatör","zaman":13.57,"ivme":-12.9},{"seri":"Yumuşak İzolatör","zaman":13.8,"ivme":-5.0},{"seri":"Yumuşak İzolatör","zaman":14.05,"ivme":2.0},{"seri":"Yumuşak İzolatör","zaman":14.3,"ivme":6.9},{"seri":"Yumuşak İzolatör","zaman":14.55,"ivme":1.0},{"seri":"Yumuşak İzolatör","zaman":14.8,"ivme":-2.5},{"seri":"Yumuşak İzolatör","zaman":15.05,"ivme":2.5},{"seri":"Yumuşak İzolatör","zaman":15.3,"ivme":-1.5},{"seri":"Yumuşak İzolatör","zaman":15.7,"ivme":4.2},{"seri":"Yumuşak İzolatör","zaman":15.95,"ivme":-4.0},{"seri":"Yumuşak İzolatör","zaman":16.24,"ivme":-12.9},{"seri":"Yumuşak İzolatör","zaman":16.5,"ivme":-4.0},{"seri":"Yumuşak İzolatör","zaman":16.8,"ivme":2.0},{"seri":"Yumuşak İzolatör","zaman":17.1,"ivme":6.6},{"seri":"Yumuşak İzolatör","zaman":17.4,"ivme":-1.0},{"seri":"Yumuşak İzolatör","zaman":17.7,"ivme":-8.7},{"seri":"Yumuşak İzolatör","zaman":17.95,"ivme":1.0},{"seri":"Yumuşak İzolatör","zaman":18.2,"ivme":10.3},{"seri":"Yumuşak İzolatör","zaman":18.45,"ivme":2.0},{"seri":"Yumuşak İzolatör","zaman":18.7,"ivme":-6.0},{"seri":"Yumuşak İzolatör","zaman":19.1,"ivme":0.5},{"seri":"Yumuşak İzolatör","zaman":19.5,"ivme":6.6},{"seri":"Yumuşak İzolatör","zaman":19.75,"ivme":0.0},{"seri":"Yumuşak İzolatör","zaman":20.0,"ivme":-6.0},{"seri":"Yumuşak İzolatör","zaman":20.25,"ivme":-1.0},{"seri":"Yumuşak İzolatör","zaman":20.5,"ivme":3.35},{"seri":"Yumuşak İzolatör","zaman":20.8,"ivme":-1.0},{"seri":"Yumuşak İzolatör","zaman":21.07,"ivme":-5.6},{"seri":"Yumuşak İzolatör","zaman":21.4,"ivme":0.5},{"seri":"Yumuşak İzolatör","zaman":21.7,"ivme":6.2},{"seri":"Yumuşak İzolatör","zaman":22.05,"ivme":0.5},{"seri":"Yumuşak İzolatör","zaman":22.4,"ivme":-4.7},{"seri":"Yumuşak İzolatör","zaman":22.75,"ivme":-0.5},{"seri":"Yumuşak İzolatör","zaman":23.1,"ivme":2.7},{"seri":"Yumuşak İzolatör","zaman":23.4,"ivme":-0.5},{"seri":"Yumuşak İzolatör","zaman":23.7,"ivme":1.0},{"seri":"Yumuşak İzolatör","zaman":23.95,"ivme":0.0},{"seri":"Yumuşak İzolatör","zaman":24.2,"ivme":2.9},{"seri":"Yumuşak İzolatör","zaman":24.55,"ivme":-1.0},{"seri":"Yumuşak İzolatör","zaman":24.9,"ivme":-5.15},{"seri":"Yumuşak İzolatör","zaman":25.25,"ivme":-0.5},{"seri":"Yumuşak İzolatör","zaman":25.6,"ivme":3.8},{"seri":"Yumuşak İzolatör","zaman":26.0,"ivme":0.5},{"seri":"Yumuşak İzolatör","zaman":26.4,"ivme":-2.5},{"seri":"Yumuşak İzolatör","zaman":26.9,"ivme":-5.8},{"seri":"Yumuşak İzolatör","zaman":27.3,"ivme":1.0},{"seri":"Yumuşak İzolatör","zaman":27.7,"ivme":6.4},{"seri":"Yumuşak İzolatör","zaman":28.0,"ivme":1.0},{"seri":"Yumuşak İzolatör","zaman":28.3,"ivme":-2.5},{"seri":"Yumuşak İzolatör","zaman":28.7,"ivme":-1.8},{"seri":"Yumuşak İzolatör","zaman":29.2,"ivme":-2.4},{"seri":"Yumuşak İzolatör","zaman":29.55,"ivme":1.5},{"seri":"Yumuşak İzolatör","zaman":29.9,"ivme":5.3},{"seri":"Yumuşak İzolatör","zaman":30.3,"ivme":0.5},{"seri":"Yumuşak İzolatör","zaman":30.8,"ivme":-4.6},{"seri":"Yumuşak İzolatör","zaman":31.2,"ivme":0.0},{"seri":"Yumuşak İzolatör","zaman":31.6,"ivme":3.1},{"seri":"Yumuşak İzolatör","zaman":32.0,"ivme":1.0},{"seri":"Yumuşak İzolatör","zaman":32.5,"ivme":-1.5},{"seri":"Yumuşak İzolatör","zaman":33.0,"ivme":-3.6},{"seri":"Yumuşak İzolatör","zaman":33.35,"ivme":0.5},{"seri":"Yumuşak İzolatör","zaman":33.7,"ivme":4.0},{"seri":"Yumuşak İzolatör","zaman":34.0,"ivme":1.0},{"seri":"Yumuşak İzolatör","zaman":34.3,"ivme":-2.1},{"seri":"Yumuşak İzolatör","zaman":34.8,"ivme":-0.5},{"seri":"Yumuşak İzolatör","zaman":35.2,"ivme":1.0},{"seri":"Yumuşak İzolatör","zaman":35.6,"ivme":-1.0},{"seri":"Yumuşak İzolatör","zaman":36.0,"ivme":2.9},{"seri":"Yumuşak İzolatör","zaman":36.5,"ivme":-3.0},{"seri":"Yumuşak İzolatör","zaman":37.0,"ivme":0.5},{"seri":"Yumuşak İzolatör","zaman":37.3,"ivme":-0.5},{"seri":"Yumuşak İzolatör","zaman":37.6,"ivme":-1.9},{"seri":"Yumuşak İzolatör","zaman":38.0,"ivme":0.5},{"seri":"Yumuşak İzolatör","zaman":38.3,"ivme":2.25},{"seri":"Yumuşak İzolatör","zaman":38.7,"ivme":-2.2},{"seri":"Yumuşak İzolatör","zaman":39.0,"ivme":0.5},{"seri":"Yumuşak İzolatör","zaman":39.3,"ivme":2.5},{"seri":"Yumuşak İzolatör","zaman":39.8,"ivme":-1.5},{"seri":"Yumuşak İzolatör","zaman":40.1,"ivme":0.5},{"seri":"Yumuşak İzolatör","zaman":40.4,"ivme":3.2},{"seri":"Yumuşak İzolatör","zaman":40.75,"ivme":-0.5},{"seri":"Yumuşak İzolatör","zaman":41.1,"ivme":-3.6},{"seri":"Yumuşak İzolatör","zaman":41.4,"ivme":1.0},{"seri":"Yumuşak İzolatör","zaman":41.7,"ivme":5.6},{"seri":"Yumuşak İzolatör","zaman":42.05,"ivme":0.0},{"seri":"Yumuşak İzolatör","zaman":42.4,"ivme":-5.5},{"seri":"Yumuşak İzolatör","zaman":42.65,"ivme":0.5},{"seri":"Yumuşak İzolatör","zaman":42.9,"ivme":6.2},{"seri":"Yumuşak İzolatör","zaman":43.1,"ivme":0.0},{"seri":"Yumuşak İzolatör","zaman":43.3,"ivme":-6.5},{"seri":"Yumuşak İzolatör","zaman":43.7,"ivme":1.0},{"seri":"Yumuşak İzolatör","zaman":44.05,"ivme":7.05},{"seri":"Yumuşak İzolatör","zaman":44.3,"ivme":0.0},{"seri":"Yumuşak İzolatör","zaman":44.6,"ivme":-7.6},{"seri":"Yumuşak İzolatör","zaman":44.85,"ivme":0.0},{"seri":"Yumuşak İzolatör","zaman":45.1,"ivme":7.7},{"seri":"Yumuşak İzolatör","zaman":45.4,"ivme":1.0},{"seri":"Yumuşak İzolatör","zaman":45.7,"ivme":-5.6},{"seri":"Yumuşak İzolatör","zaman":46.0,"ivme":-1.0},{"seri":"Yumuşak İzolatör","zaman":46.3,"ivme":3.6},{"seri":"Yumuşak İzolatör","zaman":46.65,"ivme":0.5},{"seri":"Yumuşak İzolatör","zaman":47.0,"ivme":-2.5},{"seri":"Yumuşak İzolatör","zaman":47.25,"ivme":1.0},{"seri":"Yumuşak İzolatör","zaman":47.5,"ivme":4.0},{"seri":"Yumuşak İzolatör","zaman":47.75,"ivme":0.0},{"seri":"Yumuşak İzolatör","zaman":48.0,"ivme":-3.85},{"seri":"Yumuşak İzolatör","zaman":48.3,"ivme":0.0},{"seri":"Yumuşak İzolatör","zaman":48.6,"ivme":4.1},{"seri":"Yumuşak İzolatör","zaman":48.9,"ivme":0.0},{"seri":"Yumuşak İzolatör","zaman":49.2,"ivme":-3.7},{"seri":"Yumuşak İzolatör","zaman":49.55,"ivme":0.5},{"seri":"Yumuşak İzolatör","zaman":49.9,"ivme":4.2},{"seri":"Yumuşak İzolatör","zaman":50.15,"ivme":0.0},{"seri":"Yumuşak İzolatör","zaman":50.4,"ivme":-4.2},{"seri":"Yumuşak İzolatör","zaman":50.7,"ivme":0.0},{"seri":"Yumuşak İzolatör","zaman":51.0,"ivme":3.9},{"seri":"Yumuşak İzolatör","zaman":51.25,"ivme":0.0},{"seri":"Yumuşak İzolatör","zaman":51.5,"ivme":-3.95},{"seri":"Yumuşak İzolatör","zaman":51.8,"ivme":0.0},{"seri":"Yumuşak İzolatör","zaman":52.1,"ivme":3.9},{"seri":"Yumuşak İzolatör","zaman":52.4,"ivme":0.0},{"seri":"Yumuşak İzolatör","zaman":52.7,"ivme":-3.0},{"seri":"Yumuşak İzolatör","zaman":53.0,"ivme":-0.5},{"seri":"Yumuşak İzolatör","zaman":53.3,"ivme":1.5},{"seri":"Yumuşak İzolatör","zaman":53.8,"ivme":-1.2},{"seri":"Yumuşak İzolatör","zaman":54.3,"ivme":1.4},{"seri":"Yumuşak İzolatör","zaman":54.8,"ivme":-1.0},{"seri":"Yumuşak İzolatör","zaman":55.3,"ivme":1.3},{"seri":"Yumuşak İzolatör","zaman":55.8,"ivme":-1.1},{"seri":"Yumuşak İzolatör","zaman":56.3,"ivme":1.5},{"seri":"Yumuşak İzolatör","zaman":56.8,"ivme":-1.3},{"seri":"Yumuşak İzolatör","zaman":57.3,"ivme":1.6},{"seri":"Yumuşak İzolatör","zaman":57.8,"ivme":-1.2},{"seri":"Yumuşak İzolatör","zaman":58.3,"ivme":1.0},{"seri":"Yumuşak İzolatör","zaman":58.8,"ivme":-0.8},{"seri":"Yumuşak İzolatör","zaman":59.4,"ivme":0.6},{"seri":"Yumuşak İzolatör","zaman":60.0,"ivme":-0.6},{"seri":"Yumuşak İzolatör","zaman":60.6,"ivme":0.5},{"seri":"Yumuşak İzolatör","zaman":61.2,"ivme":-0.5},{"seri":"Yumuşak İzolatör","zaman":61.8,"ivme":0.6},{"seri":"Yumuşak İzolatör","zaman":62.4,"ivme":-0.4},{"seri":"Yumuşak İzolatör","zaman":63.0,"ivme":0.5},{"seri":"Yumuşak İzolatör","zaman":63.6,"ivme":-0.5},{"seri":"Yumuşak İzolatör","zaman":64.2,"ivme":0.4},{"seri":"Yumuşak İzolatör","zaman":64.8,"ivme":-0.4},{"seri":"Yumuşak İzolatör","zaman":65.4,"ivme":0.5},{"seri":"Yumuşak İzolatör","zaman":66.0,"ivme":-0.4},{"seri":"Yumuşak İzolatör","zaman":66.6,"ivme":0.3},{"seri":"Yumuşak İzolatör","zaman":67.2,"ivme":-0.6},{"seri":"Yumuşak İzolatör","zaman":67.8,"ivme":0.4},{"seri":"Yumuşak İzolatör","zaman":68.4,"ivme":-0.3},{"seri":"Yumuşak İzolatör","zaman":69.0,"ivme":0.5},{"seri":"Yumuşak İzolatör","zaman":69.5,"ivme":0.1},{"seri":"Yumuşak İzolatör","zaman":70.0,"ivme":0.4}
],
"izolatorsuz": [
{"seri":"İzolatörsüz","zaman":0,"ivme":-0.3},{"seri":"İzolatörsüz","zaman":0.3,"ivme":-0.8},{"seri":"İzolatörsüz","zaman":0.6,"ivme":-1.0},{"seri":"İzolatörsüz","zaman":1.0,"ivme":0.3},{"seri":"İzolatörsüz","zaman":1.4,"ivme":1.2},{"seri":"İzolatörsüz","zaman":1.7,"ivme":1.4},{"seri":"İzolatörsüz","zaman":2.0,"ivme":0.5},{"seri":"İzolatörsüz","zaman":2.4,"ivme":-0.8},{"seri":"İzolatörsüz","zaman":2.7,"ivme":-1.4},{"seri":"İzolatörsüz","zaman":3.0,"ivme":-0.8},{"seri":"İzolatörsüz","zaman":3.4,"ivme":0.8},{"seri":"İzolatörsüz","zaman":3.7,"ivme":1.7},{"seri":"İzolatörsüz","zaman":4.0,"ivme":1.0},{"seri":"İzolatörsüz","zaman":4.4,"ivme":-0.6},{"seri":"İzolatörsüz","zaman":4.76,"ivme":-1.4},{"seri":"İzolatörsüz","zaman":5.1,"ivme":-0.6},{"seri":"İzolatörsüz","zaman":5.5,"ivme":0.8},{"seri":"İzolatörsüz","zaman":5.76,"ivme":1.4},{"seri":"İzolatörsüz","zaman":6.1,"ivme":0.6},{"seri":"İzolatörsüz","zaman":6.4,"ivme":-0.8},{"seri":"İzolatörsüz","zaman":6.7,"ivme":-1.2},{"seri":"İzolatörsüz","zaman":7.0,"ivme":-0.6},{"seri":"İzolatörsüz","zaman":7.4,"ivme":0.5},{"seri":"İzolatörsüz","zaman":7.8,"ivme":1.1},{"seri":"İzolatörsüz","zaman":8.1,"ivme":0.7},{"seri":"İzolatörsüz","zaman":8.3,"ivme":1.2},{"seri":"İzolatörsüz","zaman":8.6,"ivme":0.4},{"seri":"İzolatörsüz","zaman":9.0,"ivme":0.2},{"seri":"İzolatörsüz","zaman":9.3,"ivme":-0.3},{"seri":"İzolatörsüz","zaman":9.6,"ivme":-1.8},{"seri":"İzolatörsüz","zaman":9.9,"ivme":-2.2},{"seri":"İzolatörsüz","zaman":10.1,"ivme":-3.0},{"seri":"İzolatörsüz","zaman":10.3,"ivme":-2.6},{"seri":"İzolatörsüz","zaman":10.5,"ivme":-3.2},{"seri":"İzolatörsüz","zaman":10.8,"ivme":4.0},{"seri":"İzolatörsüz","zaman":11.0,"ivme":8.3},{"seri":"İzolatörsüz","zaman":11.2,"ivme":7.8},{"seri":"İzolatörsüz","zaman":11.5,"ivme":3.0},{"seri":"İzolatörsüz","zaman":11.8,"ivme":-5.0},{"seri":"İzolatörsüz","zaman":12.26,"ivme":-8.9},{"seri":"İzolatörsüz","zaman":12.5,"ivme":-6.0},{"seri":"İzolatörsüz","zaman":12.8,"ivme":5.0},{"seri":"İzolatörsüz","zaman":13.1,"ivme":14.2},{"seri":"İzolatörsüz","zaman":13.33,"ivme":14.2},{"seri":"İzolatörsüz","zaman":13.6,"ivme":2.0},{"seri":"İzolatörsüz","zaman":13.85,"ivme":-5.0},{"seri":"İzolatörsüz","zaman":14.1,"ivme":12.8},{"seri":"İzolatörsüz","zaman":14.3,"ivme":13.6},{"seri":"İzolatörsüz","zaman":14.55,"ivme":-10.4},{"seri":"İzolatörsüz","zaman":14.9,"ivme":10.0},{"seri":"İzolatörsüz","zaman":15.1,"ivme":14.9},{"seri":"İzolatörsüz","zaman":15.25,"ivme":14.0},{"seri":"İzolatörsüz","zaman":15.5,"ivme":5.0},{"seri":"İzolatörsüz","zaman":15.75,"ivme":-6.0},{"seri":"İzolatörsüz","zaman":16.0,"ivme":10.0},{"seri":"İzolatörsüz","zaman":16.24,"ivme":17.5},{"seri":"İzolatörsüz","zaman":16.5,"ivme":8.0},{"seri":"İzolatörsüz","zaman":16.85,"ivme":-10.2},{"seri":"İzolatörsüz","zaman":17.2,"ivme":12.0},{"seri":"İzolatörsüz","zaman":17.4,"ivme":16.5},{"seri":"İzolatörsüz","zaman":17.55,"ivme":16.5},{"seri":"İzolatörsüz","zaman":17.8,"ivme":8.0},{"seri":"İzolatörsüz","zaman":18.45,"ivme":-9.6},{"seri":"İzolatörsüz","zaman":19.0,"ivme":0.0},{"seri":"İzolatörsüz","zaman":19.5,"ivme":8.6},{"seri":"İzolatörsüz","zaman":19.8,"ivme":8.0},{"seri":"İzolatörsüz","zaman":20.3,"ivme":0.0},{"seri":"İzolatörsüz","zaman":20.6,"ivme":-4.7},{"seri":"İzolatörsüz","zaman":21.05,"ivme":-5.8},{"seri":"İzolatörsüz","zaman":21.5,"ivme":2.0},{"seri":"İzolatörsüz","zaman":21.9,"ivme":8.0},{"seri":"İzolatörsüz","zaman":22.1,"ivme":8.0},{"seri":"İzolatörsüz","zaman":22.3,"ivme":3.0},{"seri":"İzolatörsüz","zaman":22.7,"ivme":-5.0},{"seri":"İzolatörsüz","zaman":23.1,"ivme":-9.2},{"seri":"İzolatörsüz","zaman":23.6,"ivme":0.0},{"seri":"İzolatörsüz","zaman":24.0,"ivme":10.5},{"seri":"İzolatörsüz","zaman":24.2,"ivme":11.4},{"seri":"İzolatörsüz","zaman":24.6,"ivme":2.0},{"seri":"İzolatörsüz","zaman":24.95,"ivme":-8.0},{"seri":"İzolatörsüz","zaman":25.1,"ivme":10.0},{"seri":"İzolatörsüz","zaman":25.25,"ivme":13.0},{"seri":"İzolatörsüz","zaman":25.6,"ivme":-8.9},{"seri":"İzolatörsüz","zaman":25.9,"ivme":5.0},{"seri":"İzolatörsüz","zaman":26.2,"ivme":14.9},{"seri":"İzolatörsüz","zaman":26.4,"ivme":13.0},{"seri":"İzolatörsüz","zaman":26.9,"ivme":-6.0},{"seri":"İzolatörsüz","zaman":27.1,"ivme":12.0},{"seri":"İzolatörsüz","zaman":27.26,"ivme":17.0},{"seri":"İzolatörsüz","zaman":27.5,"ivme":8.0},{"seri":"İzolatörsüz","zaman":27.7,"ivme":-9.5},{"seri":"İzolatörsüz","zaman":28.0,"ivme":5.0},{"seri":"İzolatörsüz","zaman":28.3,"ivme":16.2},{"seri":"İzolatörsüz","zaman":28.5,"ivme":14.0},{"seri":"İzolatörsüz","zaman":28.7,"ivme":5.0},{"seri":"İzolatörsüz","zaman":29.0,"ivme":-9.05},{"seri":"İzolatörsüz","zaman":29.2,"ivme":10.0},{"seri":"İzolatörsüz","zaman":29.36,"ivme":15.9},{"seri":"İzolatörsüz","zaman":29.6,"ivme":5.0},{"seri":"İzolatörsüz","zaman":29.8,"ivme":-5.8},{"seri":"İzolatörsüz","zaman":30.1,"ivme":8.0},{"seri":"İzolatörsüz","zaman":30.4,"ivme":15.5},{"seri":"İzolatörsüz","zaman":30.7,"ivme":10.0},{"seri":"İzolatörsüz","zaman":31.0,"ivme":-9.8},{"seri":"İzolatörsüz","zaman":31.2,"ivme":10.0},{"seri":"İzolatörsüz","zaman":31.3,"ivme":14.8},{"seri":"İzolatörsüz","zaman":31.5,"ivme":12.0},{"seri":"İzolatörsüz","zaman":31.7,"ivme":-8.4},{"seri":"İzolatörsüz","zaman":32.0,"ivme":8.0},{"seri":"İzolatörsüz","zaman":32.3,"ivme":13.6},{"seri":"İzolatörsüz","zaman":32.6,"ivme":10.0},{"seri":"İzolatörsüz","zaman":32.9,"ivme":-9.0},{"seri":"İzolatörsüz","zaman":33.1,"ivme":8.0},{"seri":"İzolatörsüz","zaman":33.3,"ivme":13.0},{"seri":"İzolatörsüz","zaman":33.4,"ivme":10.0},{"seri":"İzolatörsüz","zaman":33.5,"ivme":-9.7},{"seri":"İzolatörsüz","zaman":33.9,"ivme":5.0},{"seri":"İzolatörsüz","zaman":34.2,"ivme":10.3},{"seri":"İzolatörsüz","zaman":34.4,"ivme":10.3},{"seri":"İzolatörsüz","zaman":34.8,"ivme":0.0},{"seri":"İzolatörsüz","zaman":35.3,"ivme":-7.7},{"seri":"İzolatörsüz","zaman":35.5,"ivme":-8.0},{"seri":"İzolatörsüz","zaman":35.8,"ivme":-2.0},{"seri":"İzolatörsüz","zaman":36.1,"ivme":5.0},{"seri":"İzolatörsüz","zaman":36.2,"ivme":6.0},{"seri":"İzolatörsüz","zaman":36.35,"ivme":6.0},{"seri":"İzolatörsüz","zaman":36.7,"ivme":-1.0},{"seri":"İzolatörsüz","zaman":37.1,"ivme":-3.0},{"seri":"İzolatörsüz","zaman":37.6,"ivme":0.0},{"seri":"İzolatörsüz","zaman":38.1,"ivme":2.1},{"seri":"İzolatörsüz","zaman":38.8,"ivme":-2.1},{"seri":"İzolatörsüz","zaman":39.4,"ivme":1.2},{"seri":"İzolatörsüz","zaman":39.9,"ivme":-2.0},{"seri":"İzolatörsüz","zaman":40.3,"ivme":0.0},{"seri":"İzolatörsüz","zaman":40.7,"ivme":1.0},{"seri":"İzolatörsüz","zaman":41.1,"ivme":0.5},{"seri":"İzolatörsüz","zaman":41.8,"ivme":2.4},{"seri":"İzolatörsüz","zaman":42.2,"ivme":0.0},{"seri":"İzolatörsüz","zaman":42.6,"ivme":-3.0},{"seri":"İzolatörsüz","zaman":43.1,"ivme":0.0},{"seri":"İzolatörsüz","zaman":43.6,"ivme":1.6},{"seri":"İzolatörsüz","zaman":44.0,"ivme":1.5},{"seri":"İzolatörsüz","zaman":44.8,"ivme":-4.7},{"seri":"İzolatörsüz","zaman":45.2,"ivme":0.0},{"seri":"İzolatörsüz","zaman":45.5,"ivme":3.7},{"seri":"İzolatörsüz","zaman":45.8,"ivme":3.6},{"seri":"İzolatörsüz","zaman":46.3,"ivme":0.0},{"seri":"İzolatörsüz","zaman":46.7,"ivme":-3.6},{"seri":"İzolatörsüz","zaman":47.2,"ivme":0.0},{"seri":"İzolatörsüz","zaman":47.7,"ivme":4.5},{"seri":"İzolatörsüz","zaman":48.1,"ivme":1.0},{"seri":"İzolatörsüz","zaman":48.5,"ivme":-3.1},{"seri":"İzolatörsüz","zaman":49.0,"ivme":-1.0},{"seri":"İzolatörsüz","zaman":49.9,"ivme":2.6},{"seri":"İzolatörsüz","zaman":50.4,"ivme":-1.2},{"seri":"İzolatörsüz","zaman":51.4,"ivme":1.4},{"seri":"İzolatörsüz","zaman":51.9,"ivme":0.0},{"seri":"İzolatörsüz","zaman":52.3,"ivme":0.5},{"seri":"İzolatörsüz","zaman":53.0,"ivme":0.3},{"seri":"İzolatörsüz","zaman":53.5,"ivme":-0.5},{"seri":"İzolatörsüz","zaman":54.0,"ivme":1.0},{"seri":"İzolatörsüz","zaman":54.5,"ivme":-1.2},{"seri":"İzolatörsüz","zaman":55.0,"ivme":1.1},{"seri":"İzolatörsüz","zaman":55.5,"ivme":-1.0},{"seri":"İzolatörsüz","zaman":56.0,"ivme":0.8},{"seri":"İzolatörsüz","zaman":56.7,"ivme":1.2},{"seri":"İzolatörsüz","zaman":57.2,"ivme":-1.0},{"seri":"İzolatörsüz","zaman":57.7,"ivme":0.5},{"seri":"İzolatörsüz","zaman":58.0,"ivme":-0.5},{"seri":"İzolatörsüz","zaman":58.5,"ivme":1.9},{"seri":"İzolatörsüz","zaman":59.0,"ivme":0.0},{"seri":"İzolatörsüz","zaman":59.5,"ivme":-1.9},{"seri":"İzolatörsüz","zaman":60.0,"ivme":0.0},{"seri":"İzolatörsüz","zaman":60.5,"ivme":2.25},{"seri":"İzolatörsüz","zaman":61.0,"ivme":0.0},{"seri":"İzolatörsüz","zaman":61.5,"ivme":-2.3},{"seri":"İzolatörsüz","zaman":62.0,"ivme":0.0},{"seri":"İzolatörsüz","zaman":62.5,"ivme":2.5},{"seri":"İzolatörsüz","zaman":63.0,"ivme":0.0},{"seri":"İzolatörsüz","zaman":63.6,"ivme":-2.2},{"seri":"İzolatörsüz","zaman":64.0,"ivme":0.0},{"seri":"İzolatörsüz","zaman":64.5,"ivme":2.0},{"seri":"İzolatörsüz","zaman":65.0,"ivme":0.0},{"seri":"İzolatörsüz","zaman":65.6,"ivme":-1.45},{"seri":"İzolatörsüz","zaman":66.0,"ivme":0.0},{"seri":"İzolatörsüz","zaman":66.5,"ivme":1.3},{"seri":"İzolatörsüz","zaman":67.0,"ivme":0.0},{"seri":"İzolatörsüz","zaman":67.5,"ivme":-0.3},{"seri":"İzolatörsüz","zaman":68.0,"ivme":0.3},{"seri":"İzolatörsüz","zaman":68.5,"ivme":-0.2},{"seri":"İzolatörsüz","zaman":69.0,"ivme":0.4},{"seri":"İzolatörsüz","zaman":69.5,"ivme":0.3},{"seri":"İzolatörsüz","zaman":70.0,"ivme":0.5}
]
},
"encoding": {
 "x": {"field": "zaman", "type": "quantitative", "scale": {"domain": [0, 70], "nice": false}, "axis": {"values": [0,10,20,30,40,50,60,70], "tickSize": 10, "labelPadding": 25, "title": "Zaman (sn)", "titleX": 490.5, "titleY": 107, "titleAlign": "center", "titleBaseline": "alphabetic", "labelFlush": false}},
 "y": {"field": "ivme", "type": "quantitative", "scale": {"domain": [-18, 18], "nice": false}, "axis": {"values": [-18,-12,-6,0,6,12,18], "tickSize": 9, "labelPadding": 17, "labelExpr": "datum.value < 0 ? '-' + abs(datum.value) : '' + datum.value", "title": "İvme (m/sn²)", "titleX": -81, "titleY": 267, "titleAngle": 270, "titleAlign": "center", "titleBaseline": "alphabetic", "labelFlush": false}},
 "color": {"field": "seri", "type": "nominal", "scale": {"domain": ["Sert İzolatör", "Orta Sertlikte İzolatör", "Yumuşak İzolatör", "İzolatörsüz"], "range": ["#8c8c8c", "#9a9a9a", "#000000", "#000000"]}},
 "strokeDash": {"field": "seri", "type": "nominal", "scale": {"domain": ["Sert İzolatör", "Orta Sertlikte İzolatör", "Yumuşak İzolatör", "İzolatörsüz"], "range": [[3, 5], [1, 0], [9, 9], [1, 0]]}},
 "strokeWidth": {"field": "seri", "type": "nominal", "scale": {"type": "ordinal", "domain": ["Sert İzolatör", "Orta Sertlikte İzolatör", "Yumuşak İzolatör", "İzolatörsüz"], "range": [2, 4, 4, 1.5]}}
},
"layer": [
 {"data": {"name": "sert"}, "mark": {"type": "line", "strokeJoin": "round", "clip": true}},
 {"data": {"name": "orta"}, "mark": {"type": "line", "strokeJoin": "round", "clip": true}},
 {"data": {"name": "yumusak"}, "mark": {"type": "line", "strokeJoin": "round", "clip": true}},
 {"data": {"name": "izolatorsuz"}, "mark": {"type": "line", "strokeJoin": "round", "clip": true}}
]
}
